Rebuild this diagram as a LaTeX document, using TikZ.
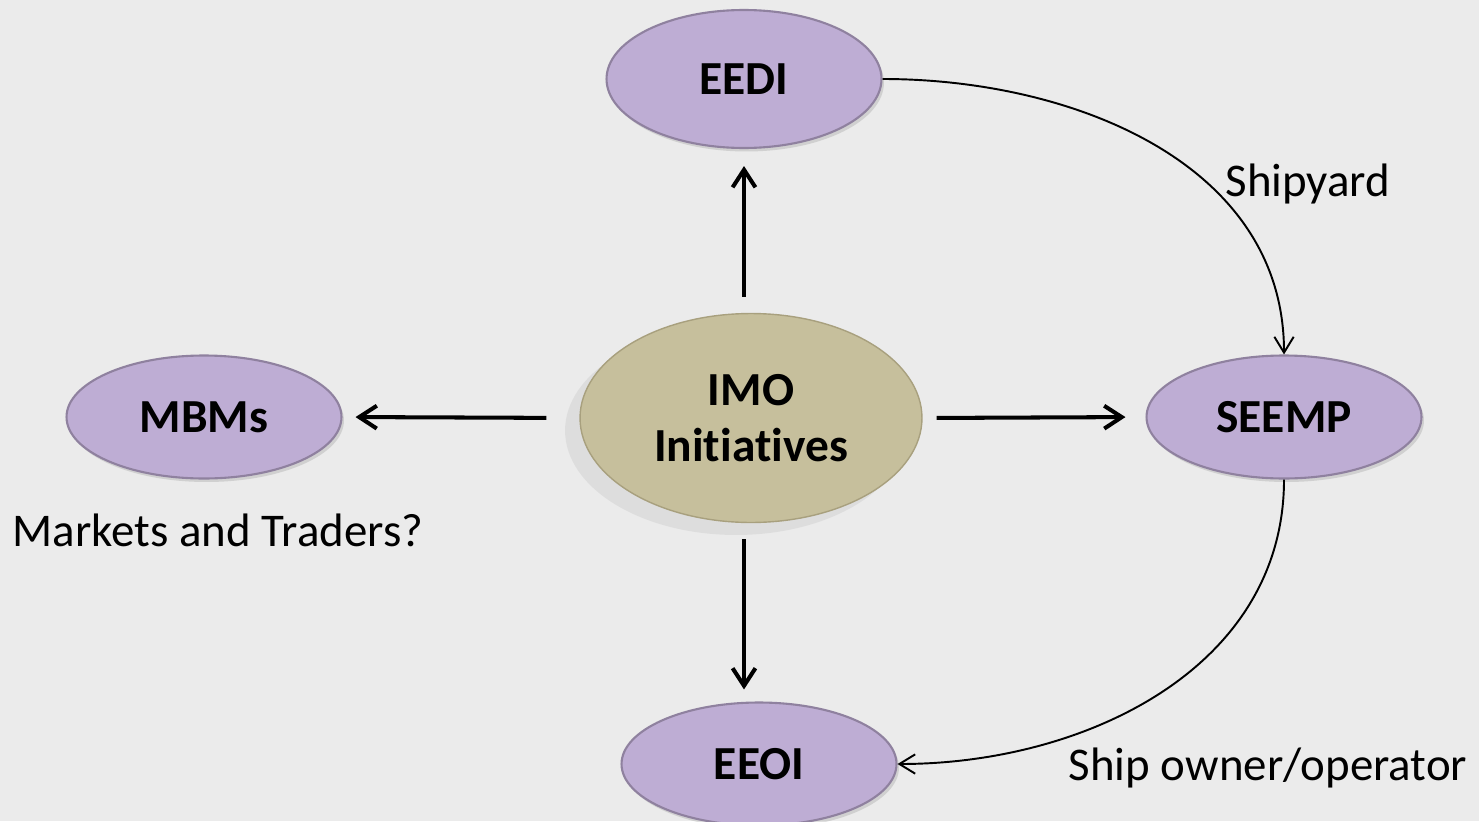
\documentclass[tikz,border=0pt]{standalone}
\usepackage{fontspec}
\setmainfont{Carlito}[Ligatures=NoCommon]
\usetikzlibrary{shapes.geometric,arrows.meta,shadows,positioning}
\definecolor{bgGray}{HTML}{EBEBEB}
\definecolor{lilac}{HTML}{BEADD4}
\definecolor{lilacRim}{HTML}{8F819F}
\definecolor{khaki}{HTML}{C6BF9C}
\definecolor{khakiRim}{HTML}{A8A07E}

\begin{document}
\begin{tikzpicture}[x=0.02cm, y=-0.02cm,
    lilacnode/.style={ellipse, fill=lilac, draw=lilacRim, line width=1.2pt,
      minimum width=5.5cm, minimum height=2.46cm, inner sep=0pt,
      font=\fontsize{27}{32}\selectfont\bfseries,
      drop shadow={shadow xshift=0.05cm, shadow yshift=-0.07cm, opacity=0.25}},
    khakinode/.style={ellipse, fill=khaki, draw=khakiRim, line width=0.8pt,
      minimum width=6.84cm, minimum height=4.18cm, inner sep=0pt, align=center,
      font=\fontsize{27}{32}\selectfont\bfseries,
      drop shadow={shadow xshift=-0.3cm, shadow yshift=-0.25cm, opacity=0.12}},
    lbl/.style={font=\fontsize{26.7}{32}\selectfont, inner sep=0pt},
    thickarrow/.style={line width=2.3pt,
      -{Straight Barb[length=10pt, width=13pt, line width=2.3pt]}},
    thinarrow/.style={line width=1.1pt,
      -{Straight Barb[length=9pt, width=11pt, line width=1.1pt]}}]
    % Background and frame
    \fill[bgGray] (0,0) rectangle (1479,821);
    \useasboundingbox (0,0) rectangle (1479,821);
    \clip (0,0) rectangle (1479,821);

    % Nodes
    \node[khakinode] (imo) at (751,418) {IMO\\Initiatives};
    \node[lilacnode, minimum height=2.76cm] (eedi) at (744,79) {EEDI};
    \node[lilacnode] (mbms) at (204,417) {MBMs};
    \node[lilacnode] (seemp) at (1284,417) {SEEMP};
    \node[lilacnode] (eeoi) at (759,764) {EEOI};

    % Labels
    \node[lbl] (shipyard) at (1308,184) {Shipyard};
    \node[lbl] (markets) at (218,530) {Markets and Traders?};
    \node[lbl] (owner) at (1268,768) {Ship owner/operator};

    % Straight arrows
    \draw[thickarrow, shorten <=0.32cm, shorten >=0.34cm] (imo.north -| eedi.south) -- (eedi.south);
    \draw[thickarrow, shorten <=0.32cm, shorten >=0.24cm] (imo.south -| eedi.south) -- (eeoi.north -| eedi.south);
    \draw[thickarrow, shorten <=0.66cm, shorten >=0.26cm] (imo.west) -- (mbms.east);
    \draw[thickarrow, shorten <=0.28cm, shorten >=0.4cm] (imo.east) -- (seemp.west);

    % Curved arrows
    \draw[thinarrow] (eedi.east) to[out=0, in=90] (seemp.north);
    \draw[thinarrow] (seemp.south) to[out=-90, in=0] (eeoi.east);
\end{tikzpicture}
\end{document}
